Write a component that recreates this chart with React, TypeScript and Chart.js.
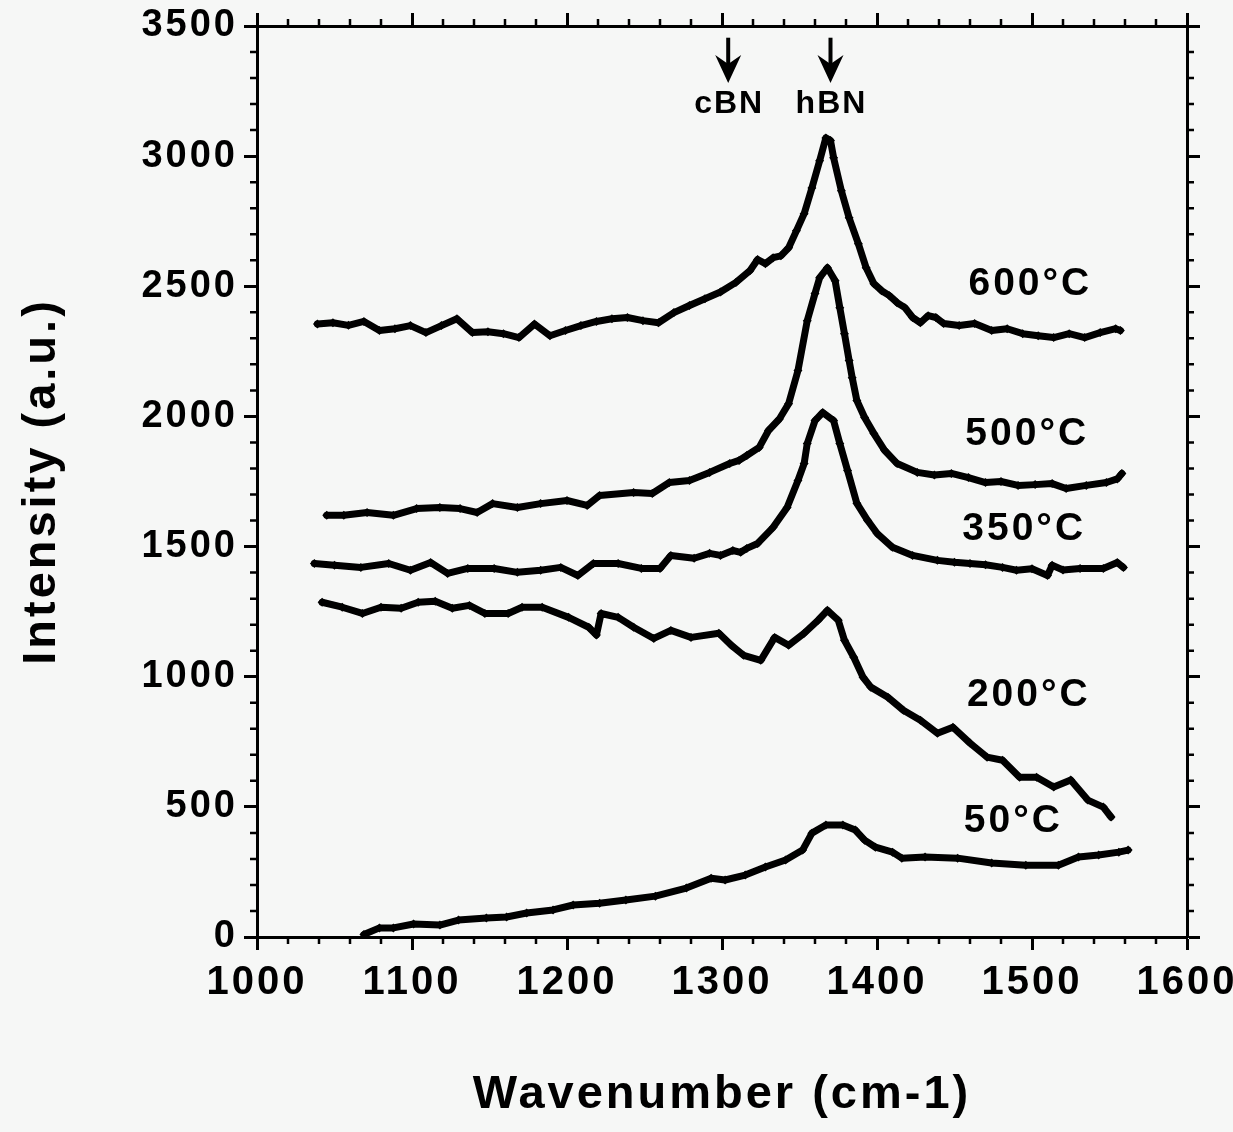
import React, { useEffect, useRef } from "react";
import { Chart, registerables } from "chart.js";

Chart.register(...registerables);

// ---- data (wavenumber in cm-1, intensity in a.u.) ----
const x600 = [1039,1049,1059,1069,1079,1089,1099,1109,1119,1129,1139,1149,1159,1169,1179,1189,1199,1209,1219,1229,1239,1249,1259,1269,1279,1289,1299,1309,1318,1323,1328,1333,1338,1343,1348,1353,1358,1363,1367,1370,1372,1377,1382,1388,1393,1398,1403,1408,1413,1418,1423,1428,1433,1438,1443,1453,1463,1474,1484,1494,1504,1514,1524,1534,1544,1554,1557];
const y600 = [2355,2360,2350,2365,2330,2337,2349,2322,2349,2375,2322,2325,2318,2303,2355,2310,2330,2349,2365,2375,2380,2368,2360,2399,2426,2452,2478,2515,2560,2603,2587,2610,2617,2648,2713,2779,2878,2982,3070,3060,2994,2867,2763,2663,2571,2510,2483,2464,2437,2418,2380,2360,2387,2380,2357,2349,2357,2330,2337,2318,2310,2303,2318,2303,2322,2337,2330];

const x500 = [1045,1056,1071,1088,1103,1118,1131,1142,1152,1168,1183,1200,1213,1221,1243,1255,1266,1279,1292,1305,1311,1316,1324,1330,1337,1343,1349,1355,1360,1363,1368,1373,1376,1379,1382,1384,1387,1392,1398,1405,1413,1426,1437,1448,1459,1470,1480,1491,1502,1513,1522,1535,1548,1555,1558];
const y500 = [1620,1620,1631,1620,1646,1650,1646,1631,1665,1650,1665,1677,1658,1696,1708,1704,1746,1754,1785,1819,1831,1850,1881,1946,1990,2049,2176,2368,2472,2533,2571,2521,2418,2318,2215,2149,2061,1996,1934,1869,1819,1785,1775,1781,1765,1746,1750,1735,1738,1742,1723,1735,1746,1760,1781];

const x350 = [1037,1050,1067,1085,1099,1112,1123,1136,1153,1168,1183,1196,1207,1217,1233,1248,1260,1267,1282,1292,1299,1307,1312,1316,1323,1333,1342,1349,1353,1355,1360,1365,1372,1376,1381,1387,1394,1400,1410,1423,1439,1450,1460,1470,1481,1490,1500,1510,1513,1520,1531,1546,1555,1559];
const y350 = [1435,1428,1420,1435,1409,1439,1397,1416,1416,1401,1409,1420,1389,1435,1435,1416,1416,1466,1455,1474,1466,1485,1478,1493,1512,1574,1650,1754,1819,1896,1984,2015,1984,1896,1792,1666,1600,1551,1497,1466,1447,1440,1435,1430,1420,1409,1415,1389,1428,1410,1416,1416,1439,1420];

const x200 = [1042,1055,1068,1080,1093,1104,1115,1126,1137,1147,1162,1171,1184,1201,1214,1219,1222,1233,1243,1256,1267,1280,1298,1306,1314,1325,1334,1343,1353,1362,1368,1375,1379,1385,1391,1396,1407,1417,1428,1439,1449,1460,1471,1481,1492,1503,1514,1525,1536,1546,1551];
const y200 = [1286,1267,1243,1267,1263,1286,1290,1263,1274,1243,1243,1267,1267,1228,1190,1160,1243,1228,1190,1147,1178,1151,1167,1121,1082,1063,1151,1121,1167,1217,1255,1217,1140,1075,998,960,921,871,833,783,806,745,691,679,614,614,576,603,526,499,461];

const x50 = [1069,1079,1088,1101,1118,1130,1148,1161,1174,1191,1204,1221,1238,1257,1277,1293,1302,1315,1328,1341,1352,1358,1367,1378,1386,1392,1399,1410,1416,1431,1452,1474,1496,1517,1530,1543,1556,1562];
const y50 = [10,35,35,50,46,65,73,77,92,104,123,130,142,157,188,226,219,238,269,296,334,399,430,430,411,372,345,326,303,307,303,284,276,276,307,315,326,334];

const seriesNames = ["600°C", "500°C", "350°C", "200°C", "50°C"];
const labelX = [1459, 1457, 1455, 1458, 1456];
const labelY = [2509, 1932, 1568, 930, 445];

const peakNames = ["cBN", "hBN"];
const peakX = [1304, 1370];
const peakTextY = 3198;
const arrowTopY = 3455;
const arrowTipY = 3281;

const xMin = 1000, xMax = 1600, xMajor = 100, xMinor = 20;
const yMin = 0, yMax = 3500, yMajor = 500, yMinor = 100;

const FONT = '"Liberation Sans", Arial, Helvetica, sans-serif';

const toPoints = (xs: number[], ys: number[]) => xs.map((x, i) => ({ x, y: ys[i] }));

const bgPlugin = {
  id: "bgAndSpacing",
  beforeLayout(chart: any) {
    chart.ctx.letterSpacing = "3px";
  },
  beforeDraw(chart: any) {
    const ctx = chart.ctx;
    ctx.save();
    ctx.fillStyle = "#f6f7f6";
    ctx.fillRect(0, 0, chart.width, chart.height);
    ctx.restore();
    ctx.letterSpacing = "3px";
  },
};

const minorTickPlugin = {
  id: "minorTicks",
  afterDraw(chart: any) {
    const { ctx, chartArea: a, scales } = chart;
    const xs = scales.x, ys = scales.y;
    ctx.save();
    ctx.strokeStyle = "#000";
    ctx.lineWidth = 2.5;
    ctx.beginPath();
    for (let v = xMin; v <= xMax; v += xMinor) {
      if (v % xMajor === 0) continue;
      const px = xs.getPixelForValue(v);
      ctx.moveTo(px, a.bottom);
      ctx.lineTo(px, a.bottom + 7);
      ctx.moveTo(px, a.top);
      ctx.lineTo(px, a.top - 7);
    }
    for (let v = yMin; v <= yMax; v += yMinor) {
      if (v % yMajor === 0) continue;
      const py = ys.getPixelForValue(v);
      ctx.moveTo(a.left, py);
      ctx.lineTo(a.left - 7, py);
      ctx.moveTo(a.right, py);
      ctx.lineTo(a.right + 7, py);
    }
    ctx.stroke();
    ctx.restore();
  },
};

const annotatePlugin = {
  id: "annotate",
  afterDatasetsDraw(chart: any) {
    const { ctx, scales } = chart;
    const xs = scales.x, ys = scales.y;
    ctx.save();
    ctx.fillStyle = "#000";
    ctx.strokeStyle = "#000";
    ctx.letterSpacing = "3px";
    ctx.font = `bold 39px ${FONT}`;
    ctx.textAlign = "left";
    ctx.textBaseline = "middle";
    seriesNames.forEach((t, i) => {
      ctx.fillText(t, xs.getPixelForValue(labelX[i]), ys.getPixelForValue(labelY[i]));
    });
    ctx.font = `bold 32px ${FONT}`;
    ctx.letterSpacing = "2px";
    ctx.textAlign = "center";
    peakNames.forEach((n, i) => {
      const px = xs.getPixelForValue(peakX[i]);
      ctx.fillText(n, px + 1, ys.getPixelForValue(peakTextY));
      const top = ys.getPixelForValue(arrowTopY);
      const tip = ys.getPixelForValue(arrowTipY);
      ctx.lineWidth = 4;
      ctx.beginPath();
      ctx.moveTo(px, top);
      ctx.lineTo(px, tip - 16);
      ctx.stroke();
      ctx.beginPath();
      ctx.moveTo(px, tip);
      ctx.lineTo(px - 13, tip - 28);
      ctx.lineTo(px, tip - 19);
      ctx.lineTo(px + 13, tip - 28);
      ctx.closePath();
      ctx.fill();
    });
    ctx.restore();
  },
};

const xTickFont = { family: FONT, size: 40, weight: "bold" as const };
const yTickFont = { family: FONT, size: 38, weight: "bold" as const };
const titleFont = { family: FONT, size: 47, weight: "bold" as const };
const gridOpts = { drawOnChartArea: false, tickLength: 13, tickWidth: 3, tickColor: "#000" };
const borderOpts = { color: "#000", width: 3 };
const plainTick = (v: any) => String(v);

export default function App() {
  const ref = useRef<HTMLCanvasElement | null>(null);
  useEffect(() => {
    if (!ref.current) return;
    const line = (xs: number[], ys: number[], label: string) => ({
      label,
      data: toPoints(xs, ys),
      borderColor: "#000",
      backgroundColor: "#000",
      borderWidth: 7,
      pointRadius: 4.5,
      pointStyle: "rectRot",
      pointBorderWidth: 0,
      tension: 0,
      borderJoinStyle: "round" as const,
      borderCapStyle: "round" as const,
      fill: false,
    });
    const chart = new Chart(ref.current, {
      type: "line",
      data: {
        datasets: [
          line(x600, y600, seriesNames[0]),
          line(x500, y500, seriesNames[1]),
          line(x350, y350, seriesNames[2]),
          line(x200, y200, seriesNames[3]),
          line(x50, y50, seriesNames[4]),
        ],
      },
      options: {
        animation: false,
        responsive: false,
        devicePixelRatio: 1,
        layout: { padding: 0 },
        plugins: { legend: { display: false }, tooltip: { enabled: false } },
        scales: {
          x: {
            type: "linear",
            position: "bottom",
            min: xMin,
            max: xMax,
            ticks: { stepSize: xMajor, font: xTickFont, color: "#000", padding: 9, maxRotation: 0, autoSkip: false, callback: plainTick },
            grid: gridOpts,
            border: borderOpts,
            title: { display: true, text: "Wavenumber (cm-1)", font: titleFont, color: "#000", padding: { top: 0, bottom: 9 } },
            afterFit(s: any) { s.height = 195; s.paddingLeft = 0; s.paddingRight = 0; },
          },
          x2: {
            type: "linear",
            position: "top",
            min: xMin,
            max: xMax,
            ticks: { display: false, stepSize: xMajor },
            grid: gridOpts,
            border: borderOpts,
            afterFit(s: any) { s.height = 26; s.paddingLeft = 0; s.paddingRight = 0; },
          },
          y: {
            type: "linear",
            position: "left",
            min: yMin,
            max: yMax,
            ticks: { stepSize: yMajor, font: yTickFont, color: "#000", padding: 6, callback: plainTick },
            grid: gridOpts,
            border: borderOpts,
            title: { display: true, text: "Intensity (a.u.)", font: titleFont, color: "#000", padding: { top: 14, bottom: 0 } },
            afterFit(s: any) { s.width = 257; s.paddingTop = 0; s.paddingBottom = 0; },
          },
          y2: {
            type: "linear",
            position: "right",
            min: yMin,
            max: yMax,
            ticks: { display: false, stepSize: yMajor },
            grid: gridOpts,
            border: borderOpts,
            afterFit(s: any) { s.width = 46; s.paddingTop = 0; s.paddingBottom = 0; },
          },
        },
      } as any,
      plugins: [bgPlugin, minorTickPlugin, annotatePlugin],
    });
    return () => chart.destroy();
  }, []);
  return (
    <div style={{ position: "fixed", left: 0, top: 0, width: 1233, height: 1132, background: "#f6f7f6" }}>
      <canvas ref={ref} width={1233} height={1132} style={{ display: "block" }} />
    </div>
  );
}
